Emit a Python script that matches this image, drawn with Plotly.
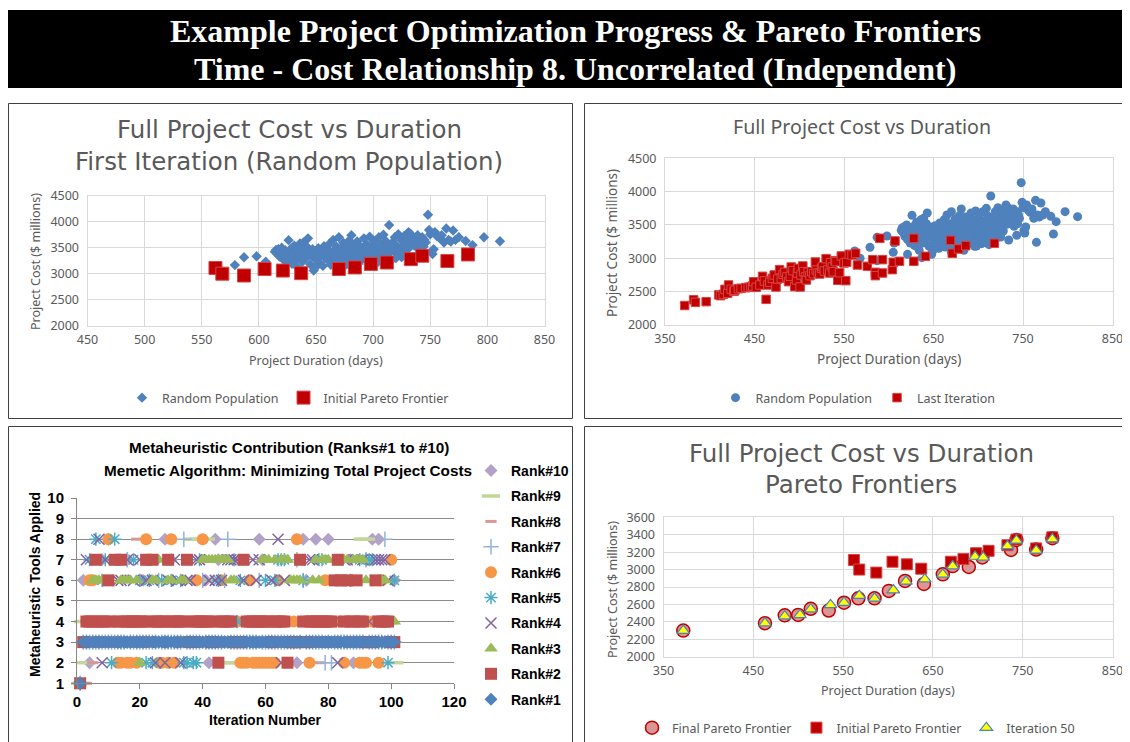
import plotly.graph_objects as go

W, H = 1130, 742
OX, OY = 8, 8  # the page places the figure 8px in from the top-left corner


def px(x):
    return (x - OX) / W


def py(y):
    return 1 - (y - OY) / H


# ---------------- DATA ----------------
# Random population (first iteration)
rand_days = [562, 568, 587, 605, 621, 637, 670, 684, 698, 712, 734, 743, 765, 784,
             579, 587, 598, 606,
             614, 615, 616, 617, 618, 619, 620, 621, 622, 623, 624, 625, 626, 627, 628, 629, 630,
             631, 632, 633, 634, 635, 636, 637, 638, 639, 640,
             641, 642, 643, 644, 645, 646, 647, 648, 649, 650, 651, 652, 653, 654, 655, 656, 657,
             658, 659, 660,
             661, 662, 663, 664, 665, 666, 667, 668, 669, 670, 671, 672, 673, 674, 675, 676, 677,
             678, 679, 680, 681, 682, 683, 684, 685, 686, 687, 688, 689, 690, 691, 692, 693, 694,
             695, 696, 697, 698, 699, 700,
             701, 702, 703, 704, 705, 706, 707, 708, 709, 710, 711, 712, 713, 714, 715, 716, 717,
             718, 719, 720, 721, 722, 723, 724, 725, 726, 727, 728, 729, 730, 731, 732, 733, 734,
             735, 736, 737, 738, 739, 740,
             741, 742, 743, 744, 745, 746, 748, 749, 750, 751, 752, 753, 754, 756, 758, 760, 762,
             764, 766, 768, 770,
             772, 775, 781, 787, 797, 811,
             668, 680, 696, 709, 720, 725]
rand_cost = [3110, 3000, 2965, 3090, 3060, 3010, 3090, 3120, 3185, 3205, 3275, 3345, 3240, 3365,
             3165, 3315, 3335, 3230,
             3420, 3455, 3390, 3470, 3330, 3420, 3500, 3280, 3360, 3450, 3230, 3400, 3645, 3310,
             3480, 3190, 3370, 3540, 3260, 3430, 3120, 3340, 3580, 3470, 3230, 3600, 3380,
             3290, 3520, 3680, 3420, 3180, 3350, 3470, 3060, 3110, 3270, 3400, 3490, 3210, 3350,
             3440, 3150, 3530, 3300, 3400, 3480,
             3250, 3580, 3170, 3360, 3650, 3440, 3300, 3520, 3210, 3700, 3380, 3470, 3260, 3590,
             3150, 3420, 3330, 3500, 3640, 3230, 3740, 3400, 3560, 3300, 3470, 3620, 3190, 3380,
             3520, 3280, 3430, 3680, 3350, 3570, 3230, 3480, 3710, 3400, 3290, 3550,
             3620, 3340, 3460, 3220, 3700, 3390, 3560, 3280, 3750, 3450, 3630, 3330, 3520, 3935,
             3420, 3260, 3600, 3480, 3700, 3550, 3370, 3760, 3470, 3340, 3640, 3530, 3720, 3410,
             3600, 3680, 3800, 3510, 3760, 3620, 3700, 3540, 3660, 3590, 3740, 3480,
             3620, 3560, 3700, 3520, 3650, 3600, 4135, 3840, 3760, 3420, 3380, 3470, 3800, 3720,
             3690, 3740, 3600, 3870, 3650, 3620, 3830,
             3650, 3700, 3630, 3550, 3700, 3625,
             3225, 3150, 3180, 3250, 3300, 3320]

# Initial Pareto frontier
init_days = [562, 568, 587, 605, 621, 637, 670, 684, 698, 712, 733, 743, 765, 783]
init_cost = [3110, 3000, 2965, 3090, 3060, 3010, 3090, 3120, 3188, 3215, 3280, 3345, 3243, 3370]

# Last iteration population
last_days = [372, 382, 384, 396, 410, 412, 415, 417, 420, 421, 424, 427, 428, 432, 435, 440, 443,
             446, 448, 449, 452, 456, 459, 461, 463, 465, 467, 470, 472, 474, 476, 478, 480, 482,
             484, 486, 488, 490, 491, 493, 495, 497, 498, 499, 501, 502, 504, 505, 507, 508, 510,
             512, 514, 516, 518, 519, 521, 523, 525, 526, 528, 530, 532, 534, 535, 537, 538, 540,
             541, 543, 545, 547, 550, 552, 553, 556, 559, 563, 565, 576, 582, 585, 585, 590, 593,
             593, 604, 605, 607, 612, 628, 628, 641, 669, 671, 678, 686, 718]
last_cost = [2292, 2378, 2340, 2350, 2452, 2440, 2460, 2535, 2475, 2600, 2535, 2505, 2520, 2545,
             2550, 2560, 2565, 2575, 2585, 2648, 2565, 2600, 2730, 2660, 2385, 2600, 2640, 2700,
             2750, 2570, 2690, 2830, 2700, 2760, 2790, 2720, 2650, 2730, 2870, 2815, 2575, 2675,
             2780, 2850, 2570, 2750, 2885, 2800, 2720, 2675, 2790, 2740, 2800, 2770, 2945, 2825,
             2780, 2765, 2850, 2875, 2810, 2995, 2825, 2780, 2935, 2870, 2800, 2965, 2950, 2670,
             2785, 3035, 2930, 2665, 2940, 3060, 3050, 3075, 2900, 2880, 2980, 2790, 2740, 3300,
             2980, 2780, 2830, 2940, 3260, 2955, 2955, 3300, 3030, 3270, 3075, 3140, 3190, 3225]

# Final Pareto frontier
final_days = [372, 463, 485, 500, 514, 534, 551, 567, 585, 601, 619, 640, 661, 672, 690, 705,
              737, 743, 765, 783]
final_cost = [2300, 2385, 2475, 2480, 2550, 2530, 2620, 2670, 2670, 2755, 2870, 2835, 2945, 3040,
              3030, 3140, 3225, 3340, 3230, 3360]

# Iteration 50 Pareto frontier
it50_days = [372, 463, 485, 502, 514, 536, 551, 568, 585, 606, 620, 641, 661, 672, 697, 706,
             733, 743, 765, 783]
it50_cost = [2300, 2385, 2465, 2480, 2545, 2595, 2620, 2700, 2670, 2765, 2865, 2890, 2945, 3040,
             3150, 3140, 3270, 3335, 3220, 3350]

# Metaheuristic tools applied per iteration, by rank
iterations = list(range(1, 102))
rank1 = [1, 3, 3, 3, 3, 3, 3, 3, 3, 3, 3, 3, 3, 3, 3, 3, 3, 3, 3, 3,
         3, 3, 3, 3, 3, 3, 3, 3, 3, 3, 3, 3, 3, 3, 3, 3, 3, 3, 3, 3,
         3, 3, 3, 3, 3, 3, 3, 3, 3, 3, 3, 3, 3, 3, 3, 3, 3, 3, 3, 3,
         3, 3, 3, 3, 3, 3, 3, 3, 3, 3, 3, 3, 3, 3, 3, 3, 3, 3, 3, 3,
         3, 3, 3, 3, 3, 3, 3, 3, 3, 3, 3, 3, 3, 3, 3, 3, 3, 3, 3, 3, 3]
rank2 = [1, 3, 4, 4, 4, 7, 4, 4, 4, 6, 4, 7, 4, 7, 4, 4, 4, 4, 4, 4,
         4, 7, 4, 7, 4, 4, 4, 4, 7, 4, 4, 4, 4, 4, 7, 3, 4, 4, 4, 4,
         4, 4, 3, 4, 2, 4, 4, 4, 4, 3, 3, 3, 7, 4, 4, 4, 4, 4, 4, 4,
         4, 3, 4, 4, 4, 4, 2, 3, 3, 3, 7, 4, 3, 4, 4, 4, 4, 4, 4, 4,
         4, 6, 7, 6, 4, 6, 4, 4, 6, 4, 4, 3, 3, 3, 6, 4, 4, 4, 4, 3, 3]
rank3 = [1, 3, 3, 3, 6, 6, 6, 6, 3, 3, 3, 3, 3, 6, 6, 6, 6, 3, 6, 2,
         3, 3, 3, 6, 6, 7, 3, 3, 6, 6, 3, 3, 6, 6, 3, 4, 3, 3, 3, 7,
         7, 7, 7, 7, 7, 7, 7, 7, 6, 6, 3, 3, 3, 3, 3, 3, 3, 3, 7, 7,
         7, 4, 7, 3, 7, 7, 7, 6, 6, 6, 6, 3, 3, 3, 6, 7, 6, 7, 7, 7,
         3, 3, 3, 3, 7, 7, 3, 7, 7, 7, 7, 6, 3, 3, 3, 6, 6, 6, 3, 4, 4]
rank4 = [1, 3, 7, 3, 3, 3, 8, 2, 7, 3, 3, 3, 6, 6, 3, 7, 3, 6, 3, 7,
         3, 6, 3, 6, 2, 3, 7, 2, 6, 3, 7, 6, 2, 3, 6, 6, 3, 7, 7, 3,
         3, 6, 3, 6, 3, 6, 3, 7, 7, 7, 7, 3, 6, 3, 3, 7, 6, 7, 3, 3,
         3, 6, 3, 8, 2, 6, 3, 3, 3, 3, 3, 3, 4, 7, 7, 3, 3, 3, 3, 3,
         3, 3, 2, 4, 7, 7, 3, 3, 3, 3, 7, 3, 4, 3, 7, 7, 7, 7, 6, 3, 3]
rank5 = [1, 3, 3, 7, 3, 8, 3, 6, 7, 3, 2, 8, 3, 3, 3, 3, 3, 7, 3, 6,
         3, 2, 6, 2, 3, 3, 6, 3, 3, 6, 3, 3, 6, 2, 2, 3, 2, 2, 7, 3,
         3, 3, 3, 3, 6, 3, 3, 3, 3, 7, 4, 6, 3, 3, 3, 3, 3, 3, 3, 6,
         3, 3, 6, 7, 7, 7, 3, 3, 3, 3, 3, 6, 3, 3, 3, 3, 7, 7, 3, 3,
         3, 3, 3, 3, 3, 3, 6, 3, 3, 7, 3, 7, 7, 7, 3, 3, 3, 3, 2, 3, 6]
rank6 = [1, 3, 4, 6, 6, 3, 3, 3, 3, 8, 3, 3, 2, 2, 3, 2, 2, 3, 2, 3,
         3, 8, 3, 3, 3, 2, 2, 3, 2, 8, 2, 3, 3, 3, 3, 3, 3, 6, 3, 8,
         3, 3, 3, 3, 3, 6, 3, 3, 3, 3, 4, 2, 2, 2, 6, 2, 2, 2, 2, 2,
         2, 2, 2, 6, 3, 3, 3, 3, 4, 8, 3, 3, 3, 2, 3, 3, 3, 3, 6, 3,
         3, 3, 3, 4, 2, 3, 3, 3, 3, 2, 2, 2, 3, 4, 3, 2, 6, 3, 3, 7, 3]
rank7 = [1, 3, 3, 3, 3, 3, 3, 3, 3, 3, 3, 3, 3, 3, 3, 7, 3, 3, 3, 3,
         3, 3, 3, 3, 3, 6, 3, 3, 3, 3, 3, 3, 3, 8, 3, 3, 3, 3, 3, 6,
         3, 3, 3, 3, 3, 3, 6, 8, 3, 3, 3, 3, 3, 3, 3, 3, 3, 6, 3, 3,
         3, 3, 3, 3, 3, 3, 3, 3, 3, 7, 3, 6, 3, 3, 3, 3, 3, 3, 2, 3,
         2, 3, 3, 3, 3, 3, 3, 3, 3, 3, 3, 7, 3, 3, 3, 3, 3, 8, 3, 3, 3]
rank8 = [1, 3, 1, 3, 2, 3, 3, 3, 3, 7, 3, 3, 3, 3, 3, 3, 3, 3, 8, 3,
         3, 3, 3, 3, 3, 3, 3, 3, 3, 3, 3, 3, 3, 3, 3, 3, 3, 3, 3, 3,
         3, 3, 3, 3, 3, 3, 3, 3, 3, 3, 3, 3, 3, 3, 3, 3, 3, 3, 3, 3,
         3, 3, 3, 3, 3, 3, 3, 3, 3, 3, 3, 3, 3, 3, 3, 3, 2, 3, 3, 3,
         3, 3, 3, 3, 3, 3, 3, 3, 3, 3, 3, 3, 3, 3, 3, 3, 3, 3, 3, 3, 6]
rank9 = [1, 4, 2, 3, 3, 3, 3, 3, 3, 3, 3, 3, 3, 3, 3, 3, 3, 3, 3, 3,
         3, 3, 3, 3, 3, 3, 3, 3, 3, 3, 3, 3, 3, 3, 3, 3, 8, 3, 8, 3,
         8, 3, 6, 3, 3, 3, 3, 2, 3, 2, 3, 3, 3, 3, 3, 3, 3, 3, 3, 3,
         3, 3, 3, 3, 3, 3, 3, 3, 3, 3, 3, 3, 6, 3, 3, 3, 3, 3, 3, 3,
         3, 3, 3, 3, 3, 3, 3, 3, 3, 3, 8, 8, 3, 3, 3, 3, 3, 3, 3, 3, 2]
rank10 = [1, 6, 3, 2, 3, 3, 3, 7, 3, 8, 3, 3, 3, 3, 3, 7, 3, 3, 3, 3,
          6, 3, 3, 3, 3, 3, 3, 8, 3, 7, 3, 3, 3, 3, 3, 3, 3, 3, 3, 3,
          6, 2, 3, 8, 7, 3, 3, 3, 3, 3, 3, 3, 3, 3, 3, 3, 3, 8, 7, 3,
          3, 3, 3, 3, 3, 3, 3, 3, 3, 2, 3, 8, 6, 3, 3, 8, 3, 3, 3, 8,
          3, 3, 3, 3, 3, 3, 7, 2, 3, 3, 3, 3, 3, 8, 3, 8, 3, 3, 3, 3, 6]

rank_names = ["Rank#10", "Rank#9", "Rank#8", "Rank#7", "Rank#6",
              "Rank#5", "Rank#4", "Rank#3", "Rank#2", "Rank#1"]
rank_values = [rank10, rank9, rank8, rank7, rank6, rank5, rank4, rank3, rank2, rank1]

# ---------------- STYLE ----------------
GRAY = "#595959"
GRID = "#D9D9D9"
SANS = "Noto Sans"
rank_styles = [
    dict(symbol="diamond", size=10, color="#B3A2C7", lw=0),
    dict(symbol="line-ew-open", size=13, color="#C3D69B", lw=3.5),
    dict(symbol="line-ew-open", size=8, color="#D99694", lw=3),
    dict(symbol="cross-thin-open", size=11, color="#95B3D7", lw=1.5),
    dict(symbol="circle", size=12, color="#F79646", lw=0),
    dict(symbol="asterisk-open", size=11, color="#4BACC6", lw=1.5),
    dict(symbol="x-thin-open", size=11, color="#8064A2", lw=1.5),
    dict(symbol="triangle-up", size=12, color="#9BBB59", lw=0),
    dict(symbol="square", size=12, color="#C0504D", lw=0),
    dict(symbol="diamond", size=10, color="#4F81BD", lw=0),
]

fig = go.Figure()

# Top-left panel
fig.add_trace(go.Scatter(x=rand_days, y=rand_cost, mode="markers", name="Random Population",
                         marker=dict(symbol="diamond", size=8, color="#4F81BD"),
                         xaxis="x", yaxis="y", legend="legend"))
fig.add_trace(go.Scatter(x=init_days, y=init_cost, mode="markers", name="Initial Pareto Frontier",
                         marker=dict(symbol="square", size=13, color="#C00000",
                                     line=dict(color="#D64545", width=1)),
                         xaxis="x", yaxis="y", legend="legend"))

# Top-right panel
fig.add_trace(go.Scatter(x=rand_days, y=rand_cost, mode="markers", name="Random Population",
                         marker=dict(symbol="circle", size=9, color="#4F81BD"),
                         xaxis="x2", yaxis="y2", legend="legend2"))
fig.add_trace(go.Scatter(x=last_days, y=last_cost, mode="markers", name="Last Iteration",
                         marker=dict(symbol="square", size=8.5, color="#C00000",
                                     line=dict(color="#D64545", width=1)),
                         xaxis="x2", yaxis="y2", legend="legend2"))

# Bottom-left panel
for name, vals, st in zip(rank_names, rank_values, rank_styles):
    mk = dict(symbol=st["symbol"], size=st["size"], color=st["color"])
    if st["lw"] > 0:
        mk["line"] = dict(color=st["color"], width=st["lw"])
    fig.add_trace(go.Scatter(x=iterations, y=vals, mode="markers", name=name, marker=mk,
                             cliponaxis=False, legendgroup=name,
                             xaxis="x3", yaxis="y3", legend="legend3"))

# Bottom-right panel
fig.add_trace(go.Scatter(x=final_days, y=final_cost, mode="markers", name="Final Pareto Frontier",
                         marker=dict(symbol="circle", size=13, color="#D99694",
                                     line=dict(color="#C00000", width=1.5)),
                         xaxis="x4", yaxis="y4", legend="legend4"))
fig.add_trace(go.Scatter(x=init_days, y=init_cost, mode="markers", name="Initial Pareto Frontier",
                         marker=dict(symbol="square", size=11, color="#C00000",
                                     line=dict(color="#D64545", width=1)),
                         xaxis="x4", yaxis="y4", legend="legend4"))
fig.add_trace(go.Scatter(x=it50_days, y=it50_cost, mode="markers", name="Iteration 50",
                         marker=dict(symbol="triangle-up", size=11, color="#FFFF00",
                                     line=dict(color="#4F81BD", width=1.2)),
                         xaxis="x4", yaxis="y4", legend="legend4"))

tickf = dict(family=SANS, size=12.5, color=GRAY)
ax = dict(showgrid=True, gridcolor=GRID, gridwidth=1, zeroline=False, showline=True,
          linecolor=GRID, linewidth=1, mirror=True, ticks="", tickfont=tickf, fixedrange=True,
          automargin=False)
axx = dict(ax, ticklabelstandoff=2)
axy = dict(ax, ticklabelstandoff=5)
blf = dict(family="Liberation Sans", size=15, color="black", weight="bold")
blleg = dict(family="Liberation Sans", size=14, color="black", weight="bold")

fig.update_layout(
    width=W, height=H, margin=dict(l=0, r=0, t=0, b=0, autoexpand=False),
    paper_bgcolor="white", plot_bgcolor="white",
    xaxis=dict(domain=[px(87.5), px(544.5)], range=[450, 850], dtick=50, tick0=450,
               anchor="y", **axx),
    yaxis=dict(domain=[py(325.7), py(195.7)], range=[2000, 4500], dtick=500, tick0=2000,
               anchor="x", **axy),
    xaxis2=dict(domain=[px(665), px(1112.5)], range=[350, 850], dtick=100, tick0=350,
                anchor="y2", **axx),
    yaxis2=dict(domain=[py(325), py(158.3)], range=[2000, 4500], dtick=500, tick0=2000,
                anchor="x2", **axy),
    xaxis3=dict(domain=[px(77), px(454)], range=[0, 120], dtick=20, tick0=0, anchor="y3",
                showgrid=False, zeroline=False, showline=True, linecolor="#868686",
                ticks="outside", ticklen=5, tickcolor="#868686", tickfont=blf, fixedrange=True,
                automargin=False),
    yaxis3=dict(domain=[py(683.3), py(498)], range=[1, 10], dtick=1, tick0=1, anchor="x3",
                showgrid=True, gridcolor="#8C8C8C", zeroline=False, showline=True,
                linecolor="#868686", ticks="outside", ticklen=5, tickcolor="#868686",
                tickfont=blf, fixedrange=True, automargin=False, ticklabelstandoff=4),
    xaxis4=dict(domain=[px(663.5), px(1112.5)], range=[350, 850], dtick=100, tick0=350,
                anchor="y4", **axx),
    yaxis4=dict(domain=[py(656.7), py(517.3)], range=[2000, 3600], dtick=200, tick0=2000,
                anchor="x4", **axy),
    legend=dict(orientation="h", x=px(288), xanchor="center", y=py(398), yanchor="middle",
                font=dict(family=SANS, size=12.5, color=GRAY), bgcolor="rgba(0,0,0,0)"),
    legend2=dict(orientation="h", x=px(858), xanchor="center", y=py(398), yanchor="middle",
                 font=dict(family=SANS, size=12.5, color=GRAY), bgcolor="rgba(0,0,0,0)"),
    legend3=dict(orientation="v", x=px(471), xanchor="left", y=py(455), yanchor="top",
                 font=blleg, traceorder="grouped", tracegroupgap=4.2,
                 bgcolor="rgba(0,0,0,0)"),
    legend4=dict(orientation="h", x=px(856), xanchor="center", y=py(728), yanchor="middle",
                 font=dict(family=SANS, size=12.5, color=GRAY), bgcolor="rgba(0,0,0,0)"),
    showlegend=True,
)

# Panel borders and title band
BORDER = dict(color="#404040", width=1)
shapes = [
    dict(type="rect", xref="paper", yref="paper", x0=px(8), x1=px(1122), y0=py(88), y1=py(10),
         fillcolor="black", line=dict(width=0), layer="below"),
]
for (x0, y0, x1, y1) in [(8.5, 103.5, 572.5, 418.5), (584.5, 103.5, 1128.5, 418.5)]:
    shapes.append(dict(type="rect", xref="paper", yref="paper", x0=px(x0), x1=px(x1),
                       y0=py(y1), y1=py(y0), line=BORDER,
                       fillcolor="rgba(0,0,0,0)", layer="below"))
for (xa, ya, xb, yb) in [(8.5, 426.5, 572.5, 426.5), (8.5, 426.5, 8.5, 749),
                         (572.5, 426.5, 572.5, 749), (584.5, 426.5, 1137, 426.5),
                         (584.5, 426.5, 584.5, 749)]:
    shapes.append(dict(type="line", xref="paper", yref="paper", x0=px(xa), x1=px(xb),
                       y0=py(ya), y1=py(yb), line=BORDER, layer="below"))
fig.update_layout(shapes=shapes)


def ann(text, x, y, size, color, family, angle=0, weight="normal"):
    fig.add_annotation(text=text, x=px(x), y=py(y), xref="paper", yref="paper",
                       xanchor="center", yanchor="middle", showarrow=False, textangle=angle,
                       font=dict(family=family, size=size, color=color, weight=weight))


# Main title
ann("Example Project Optimization Progress &amp; Pareto Frontiers", 575, 31, 32, "white",
    "Liberation Serif", weight="bold")
ann("Time - Cost Relationship 8. Uncorrelated (Independent)", 575, 69, 32, "white",
    "Liberation Serif", weight="bold")

# Top-left
ann("Full Project Cost vs Duration", 289, 130, 24.5, GRAY, "DejaVu Sans")
ann("First Iteration (Random Population)", 289, 161, 24.5, GRAY, "DejaVu Sans")
ann("Project Duration (days)", 316, 360, 12.5, GRAY, SANS)
ann("Project Cost ($ millions)", 35, 262, 12.5, GRAY, SANS, angle=-90)

# Top-right
ann("Full Project Cost vs Duration", 862, 126, 19.6, GRAY, SANS)
ann("Project Duration (days)", 889, 359, 13.5, GRAY, SANS)
ann("Project Cost ($ millions)", 612, 243, 13.5, GRAY, SANS, angle=-90)

# Bottom-left
ann("Metaheuristic Contribution (Ranks#1 to #10)", 289, 447, 15.3, "black", "Liberation Sans",
    weight="bold")
ann("Memetic Algorithm: Minimizing Total Project Costs", 288, 470, 15.3, "black",
    "Liberation Sans", weight="bold")
ann("Iteration Number", 265, 720, 14, "black", "Liberation Sans", weight="bold")
ann("Metaheuristic Tools Applied", 35, 585, 14, "black", "Liberation Sans", angle=-90,
    weight="bold")

# Bottom-right
ann("Full Project Cost vs Duration", 861, 453, 24.5, GRAY, "DejaVu Sans")
ann("Pareto Frontiers", 861, 484, 24.5, GRAY, "DejaVu Sans")
ann("Project Duration (days)", 888, 690, 12.5, GRAY, SANS)
ann("Project Cost ($ millions)", 612, 590, 12.5, GRAY, SANS, angle=-90)

fig.write_html("out.html")
